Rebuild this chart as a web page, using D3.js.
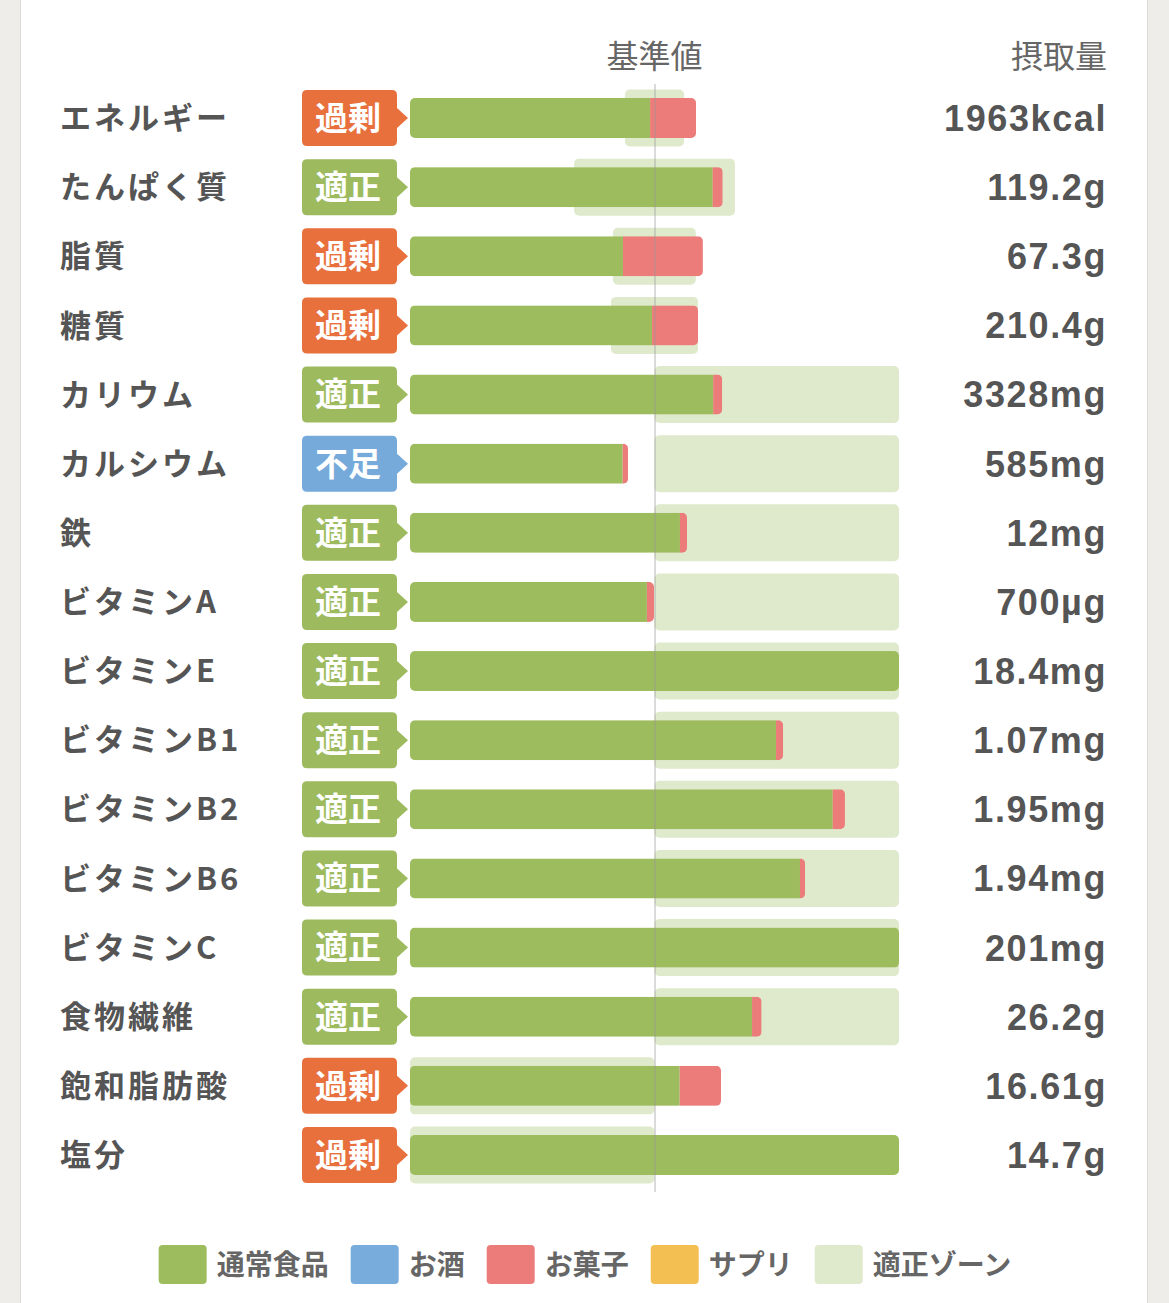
<!DOCTYPE html>
<html>
<head>
<meta charset="utf-8">
<script src="https://cdn.jsdelivr.net/npm/d3@7"></script>
<style>
  body { margin: 0; background: #eeede9; }
  svg { display: block; }
</style>
</head>
<body>
<div id="chart"></div>
<script>
// nutrient rows
var nutrients = [ "エネルギー", "たんぱく質", "脂質", "糖質", "カリウム", "カルシウム", "鉄", "ビタミンA",
  "ビタミンE", "ビタミンB1", "ビタミンB2", "ビタミンB6", "ビタミンC", "食物繊維", "飽和脂肪酸", "塩分" ];
var judgement = [ "過剰", "適正", "過剰", "過剰", "適正", "不足", "適正", "適正",
  "適正", "適正", "適正", "適正", "適正", "適正", "過剰", "過剰" ];
var intake = [ "1963kcal", "119.2g", "67.3g", "210.4g", "3328mg", "585mg", "12mg", "700µg",
  "18.4mg", "1.07mg", "1.95mg", "1.94mg", "201mg", "26.2g", "16.61g", "14.7g" ];
// % of the reference value
var foodPct  = [ 98.2, 123.8, 87.1, 99.0, 124.0, 87.0, 110.4, 96.9, 283, 149.7, 172.9, 159.5, 201, 139.9, 110.3, 200 ];
var snackPct = [ 18.8, 4.1, 32.7, 18.8, 3.7, 2.2, 2.9, 2.9, 0, 2.9, 5.0, 2.1, 0, 3.9, 16.9, 0 ];
var zoneLo   = [ 87.9, 67.1, 83.0, 82.2, 100, 100, 100, 100, 100, 100, 100, 100, 100, 100, 0, 0 ];
var zoneHi   = [ 112.1, 132.9, 116.9, 117.8, 200, 200, 200, 200, 200, 200, 200, 200, 200, 200, 100, 100 ];
var legendNames = [ "通常食品", "お酒", "お菓子", "サプリ", "適正ゾーン" ];

var width = 1169, height = 1303;
var colors = { food: "#9dbc5e", alcohol: "#78acdc", snack: "#ec7c7a", supp: "#f4bf52", zone: "#dfe9cc" };
var badgeColor = { "過剰": "#e8703d", "適正": "#9dbb5e", "不足": "#76aadb" };
var legendColors = [ colors.food, colors.alcohol, colors.snack, colors.supp, colors.zone ];
var textColor = "#555";
var jp = "'Noto Sans CJK JP', 'Noto Sans', sans-serif";

var svg = d3.select( "#chart" ).append( "svg" )
  .attr( "width", width )
  .attr( "height", height );

// white panel
svg.append( "rect" )
  .attr( "x", 20.5 ).attr( "y", -2 )
  .attr( "width", 1127 ).attr( "height", height + 4 )
  .attr( "fill", "#fff" )
  .attr( "stroke", "#dcdbd5" );

var x = d3.scaleLinear().domain( [ 0, 200 ] ).range( [ 410, 899 ] ).clamp( true );
var y = d3.scalePoint().domain( nutrients ).range( [ 118, 1155 ] );

var rows = nutrients.map( function( name, i ) {
  return { name: name, judge: judgement[ i ], intake: intake[ i ], food: foodPct[ i ],
    snack: snackPct[ i ], lo: zoneLo[ i ], hi: zoneHi[ i ], i: i };
} );

// headers
svg.append( "text" )
  .attr( "x", x( 100 ) ).attr( "y", 68 )
  .attr( "text-anchor", "middle" )
  .style( "font-family", jp ).style( "font-size", "32px" )
  .attr( "fill", "#666" )
  .text( "基準値" );
svg.append( "text" )
  .attr( "x", 1107 ).attr( "y", 68 )
  .attr( "text-anchor", "end" )
  .style( "font-family", jp ).style( "font-size", "32px" )
  .attr( "fill", "#666" )
  .text( "摂取量" );

var defs = svg.append( "defs" );
defs.selectAll( "clipPath" )
  .data( rows )
  .enter().append( "clipPath" )
    .attr( "id", function( d ) { return "bar" + d.i; } )
  .append( "rect" )
    .attr( "x", x( 0 ) )
    .attr( "y", function( d ) { return y( d.name ) - 20; } )
    .attr( "width", function( d ) { return x( d.food + d.snack ) - x( 0 ); } )
    .attr( "height", 40 )
    .attr( "rx", 5 );

var row = svg.selectAll( ".row" )
  .data( rows )
  .enter().append( "g" )
    .attr( "class", "row" );

// labels
row.append( "text" )
  .attr( "x", 60 )
  .attr( "y", function( d ) { return y( d.name ); } )
  .attr( "dy", "0.36em" )
  .style( "font-family", jp ).style( "font-size", "31px" ).style( "font-weight", "bold" )
  .style( "letter-spacing", "3px" )
  .attr( "fill", textColor )
  .text( function( d ) { return d.name; } );

// badges
row.append( "path" )
  .attr( "d", function( d ) {
    var c = y( d.name ), l = 302, r = 397, t = c - 28, b = c + 28, k = 5;
    return "M" + ( l + k ) + "," + t + "H" + ( r - k ) + "Q" + r + "," + t + " " + r + "," + ( t + k ) +
      "V" + ( c - 10 ) + "L" + ( r + 11 ) + "," + c + "L" + r + "," + ( c + 10 ) +
      "V" + ( b - k ) + "Q" + r + "," + b + " " + ( r - k ) + "," + b +
      "H" + ( l + k ) + "Q" + l + "," + b + " " + l + "," + ( b - k ) +
      "V" + ( t + k ) + "Q" + l + "," + t + " " + ( l + k ) + "," + t + "Z";
  } )
  .attr( "fill", function( d ) { return badgeColor[ d.judge ]; } );
row.append( "text" )
  .attr( "x", 348 )
  .attr( "y", function( d ) { return y( d.name ); } )
  .attr( "dy", "0.36em" )
  .attr( "text-anchor", "middle" )
  .style( "font-family", jp ).style( "font-size", "33px" ).style( "font-weight", "bold" )
  .attr( "fill", "#fff" )
  .text( function( d ) { return d.judge; } );

// zone
row.append( "rect" )
  .attr( "x", function( d ) { return x( d.lo ); } )
  .attr( "y", function( d ) { return y( d.name ) - 28.5; } )
  .attr( "width", function( d ) { return x( d.hi ) - x( d.lo ); } )
  .attr( "height", 57 )
  .attr( "rx", 5 )
  .attr( "fill", colors.zone );

// stacked bar
var bar = row.append( "g" )
  .attr( "clip-path", function( d ) { return "url(#bar" + d.i + ")"; } );
bar.append( "rect" )
  .attr( "x", x( 0 ) )
  .attr( "y", function( d ) { return y( d.name ) - 20; } )
  .attr( "width", function( d ) { return x( d.food ) - x( 0 ); } )
  .attr( "height", 40 )
  .attr( "fill", colors.food );
bar.append( "rect" )
  .attr( "x", function( d ) { return x( d.food ); } )
  .attr( "y", function( d ) { return y( d.name ) - 20; } )
  .attr( "width", function( d ) { return x( d.food + d.snack ) - x( d.food ); } )
  .attr( "height", 40 )
  .attr( "fill", colors.snack );

// intake values
row.append( "text" )
  .attr( "x", 1107 )
  .attr( "y", function( d ) { return y( d.name ); } )
  .attr( "dy", "0.36em" )
  .attr( "text-anchor", "end" )
  .style( "font-family", "'Liberation Sans', Arial, sans-serif" )
  .style( "font-size", "36px" ).style( "font-weight", "bold" )
  .style( "letter-spacing", "1.6px" )
  .attr( "fill", textColor )
  .text( function( d ) { return d.intake; } );

// reference line
svg.append( "line" )
  .attr( "x1", x( 100 ) + 0.5 ).attr( "x2", x( 100 ) + 0.5 )
  .attr( "y1", 84 ).attr( "y2", 1192 )
  .attr( "stroke", "#999" )
  .attr( "stroke-opacity", 0.7 )
  .attr( "stroke-width", 1 );

// legend
var legend = svg.append( "g" );
var lx = 0, gap = 22;
legendNames.forEach( function( name, i ) {
  var item = legend.append( "g" ).attr( "transform", "translate(" + lx + ",0)" );
  item.append( "rect" )
    .attr( "width", 48 ).attr( "height", 39 )
    .attr( "rx", 4 )
    .attr( "fill", legendColors[ i ] );
  var t = item.append( "text" )
    .attr( "x", 58 ).attr( "y", 20 )
    .attr( "dy", "0.36em" )
    .style( "font-family", jp ).style( "font-size", "28px" ).style( "font-weight", "bold" )
    .attr( "fill", "#666" )
    .text( name );
  lx += 58 + t.node().getComputedTextLength() + gap;
} );
var lw = lx - gap;
legend.attr( "transform", "translate(" + ( 585 - lw / 2 ) + ",1245)" );
</script>
</body>
</html>
